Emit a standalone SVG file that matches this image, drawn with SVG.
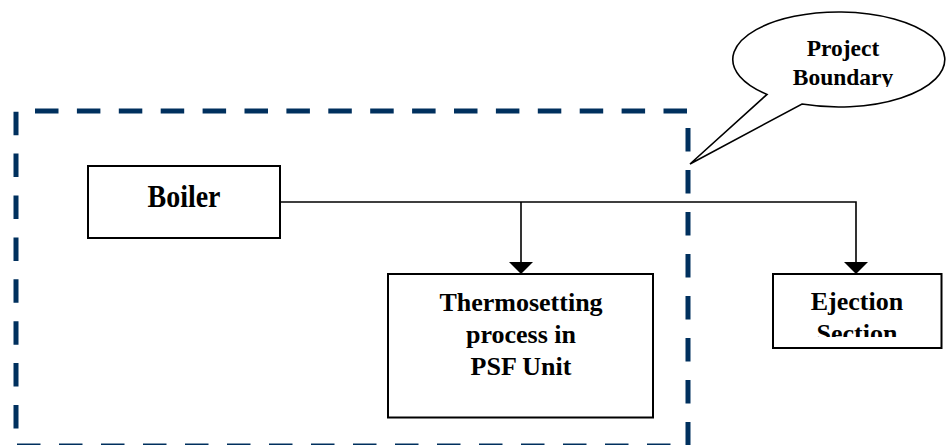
<svg xmlns="http://www.w3.org/2000/svg" width="946" height="445" viewBox="0 0 946 445">
<style>
.box{fill:#fff;stroke:#000;stroke-width:2}
.lbl{font-family:"Liberation Serif","Times New Roman",serif;font-weight:bold;fill:#000;text-anchor:middle}
.bnd{stroke:#00305e;stroke-width:5;fill:none}
.conn{stroke:#000;stroke-width:1.6;fill:none}
.head{fill:#000;stroke:none}
</style>
<defs>
<clipPath id="clipSec"><rect x="770" y="270" width="176" height="67"/></clipPath>
<clipPath id="clipBnd"><rect x="730" y="0" width="216" height="87"/></clipPath>
</defs>
<rect width="946" height="445" fill="#fff"/>
<g id="boundary">
<line class="bnd" x1="35" y1="111" x2="688" y2="111" stroke-dasharray="23.5 18.4"/>
<line class="bnd" x1="16" y1="111.7" x2="16" y2="445" stroke-dasharray="23.5 18.4"/>
<line class="bnd" x1="688" y1="128" x2="688" y2="445" stroke-dasharray="23.5 18.5"/>
<line class="bnd" x1="17" y1="446" x2="688" y2="446" stroke-dasharray="23.5 18.5"/>
</g>
<g id="connectors">
<polyline class="conn" points="280,202 856,202 856,263"/>
<line class="conn" x1="521" y1="202" x2="521" y2="263"/>
<polygon class="head" points="509,262 533,262 521,274"/>
<polygon class="head" points="844,262 868,262 856,274"/>
</g>
<g id="boiler">
<rect class="box" x="88" y="166" width="192" height="72"/>
<text class="lbl" x="0" y="0" font-size="28" transform="translate(184,207) scale(1,1.1)">Boiler</text>
</g>
<g id="thermosetting">
<rect class="box" x="388" y="274" width="265" height="143.5"/>
<text class="lbl" x="521" y="311" font-size="26">Thermosetting</text>
<text class="lbl" x="521" y="343" font-size="26">process in</text>
<text class="lbl" x="521" y="375" font-size="26">PSF Unit</text>
</g>
<g id="ejection">
<rect class="box" x="773" y="274" width="168.5" height="74"/>
<text class="lbl" x="857" y="310" font-size="26">Ejection</text>
<text class="lbl" x="857" y="342" font-size="26" clip-path="url(#clipSec)">Section</text>
</g>
<g id="callout">
<path d="M 802 104 A 106 47.5 0 1 0 767 94.4 L 690 164 Z" fill="#fff" stroke="#000" stroke-width="1.6" stroke-linejoin="miter"/>
<text class="lbl" x="843" y="56" font-size="23.5">Project</text>
<text class="lbl" x="843" y="85" font-size="23.5" clip-path="url(#clipBnd)">Boundary</text>
</g>
</svg>
